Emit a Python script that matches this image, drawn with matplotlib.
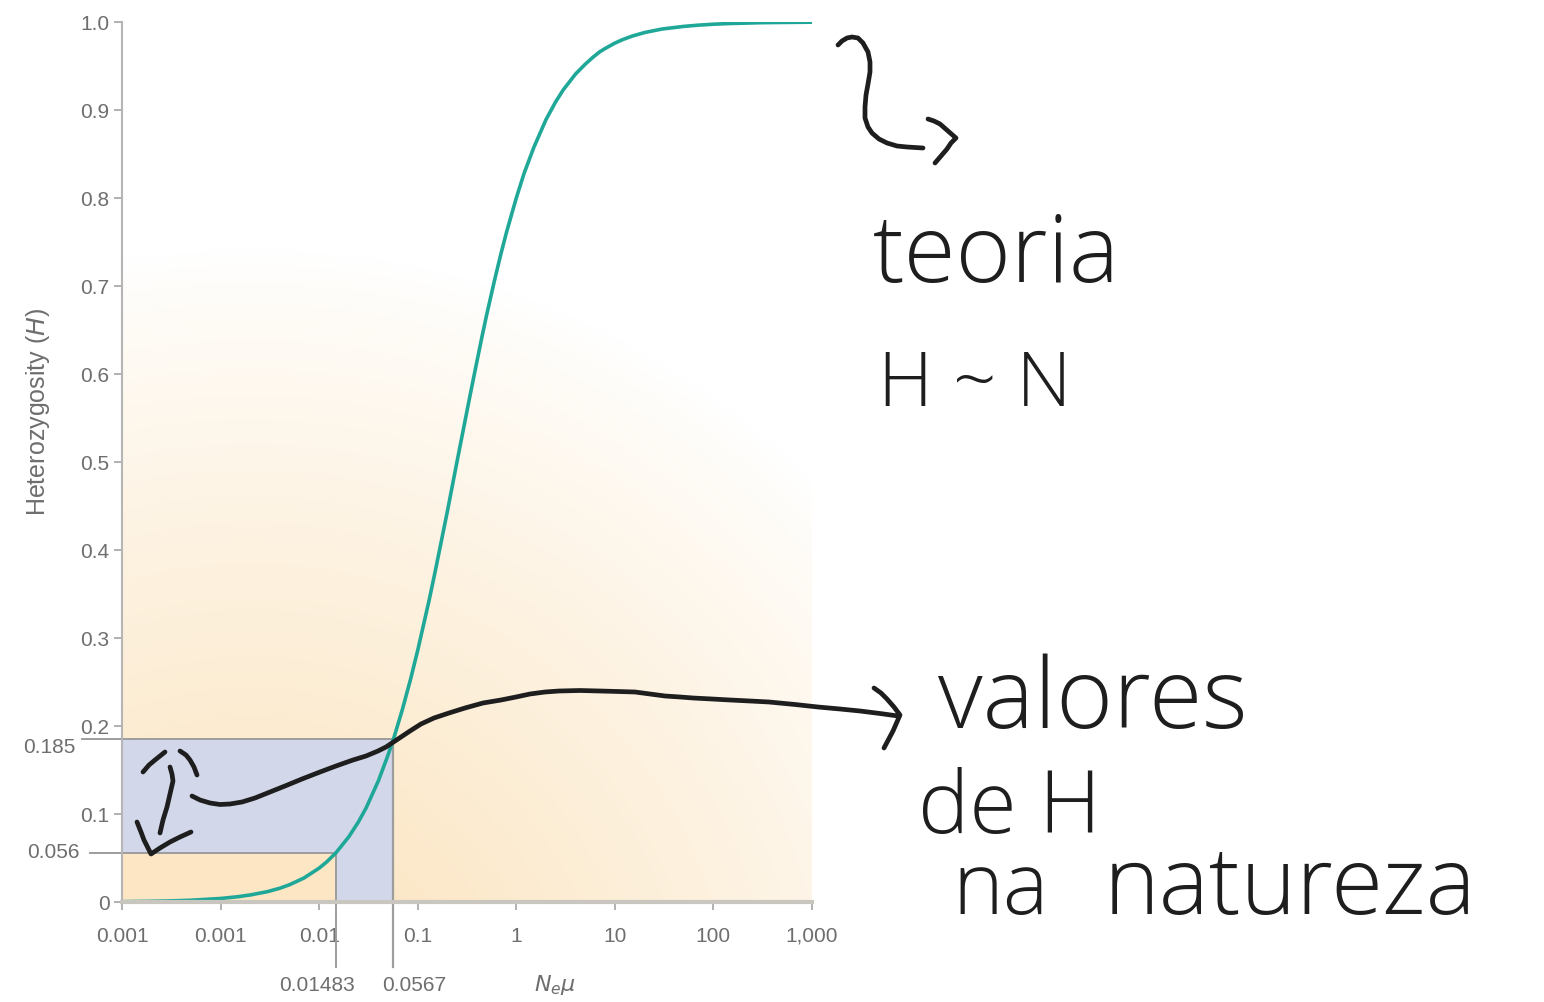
import numpy as np
import matplotlib
matplotlib.use("Agg")
import matplotlib.pyplot as plt
from matplotlib.transforms import blended_transform_factory, offset_copy

# ---- data -------------------------------------------------------------
# Expected heterozygosity H against the population-scaled mutation rate N_e*mu
ne_mu = [0.0001, 0.0002, 0.0003, 0.0005, 0.001, 0.0015, 0.002, 0.003, 0.004,
         0.005, 0.007, 0.01, 0.012, 0.01483, 0.02, 0.025, 0.03, 0.04, 0.05,
         0.0567, 0.06, 0.07, 0.085, 0.1, 0.13, 0.15, 0.17, 0.2, 0.25, 0.3,
         0.35, 0.4, 0.45, 0.5, 0.6, 0.7, 0.8, 1.0, 1.2, 1.5, 2.0, 2.5, 3.0,
         4.0, 5.0, 6.0, 7.0, 8.0, 10.0, 12.0, 15.0, 20.0, 30.0, 50.0, 70.0,
         100.0, 150.0, 300.0, 500.0, 1000.0]
het = [0.0004, 0.0008, 0.0012, 0.002, 0.004, 0.006, 0.008, 0.0118, 0.0157,
       0.0196, 0.0272, 0.0385, 0.0458, 0.056, 0.0741, 0.0909, 0.107, 0.138,
       0.167, 0.185, 0.194, 0.219, 0.254, 0.286, 0.342, 0.375, 0.405, 0.444,
       0.500, 0.545, 0.583, 0.615, 0.643, 0.667, 0.706, 0.737, 0.762, 0.800,
       0.828, 0.857, 0.889, 0.909, 0.923, 0.941, 0.952, 0.960, 0.966, 0.970,
       0.976, 0.980, 0.984, 0.988, 0.992, 0.995, 0.9964, 0.9975, 0.9983,
       0.9992, 0.9995, 0.9998]

# observed range of H and the matching N_e*mu values
h_low, h_high = 0.056, 0.185
nmu_low, nmu_high = 0.01483, 0.0567

x_ticks = [0.0001, 0.001, 0.01, 0.1, 1, 10, 100, 1000]
x_tick_labels = ["0.001", "0.001", "0.01", "0.1", "1", "10", "100", "1,000"]
y_ticks = [0, 0.1, 0.2, 0.3, 0.4, 0.5, 0.6, 0.7, 0.8, 0.9, 1.0]
y_tick_labels = ["0", "0.1", "0.2", "0.3", "0.4", "0.5", "0.6", "0.7", "0.8", "0.9", "1.0"]

# handwritten notes
note_theory = ["teoria", "H ~ N"]
note_nature = ["valores", "de H", "na", "natureza"]

# ---- style ------------------------------------------------------------
TEAL = "#1fa898"
GRAY = "#9d9d9d"
LABEL = "#6e6e6e"
PEACH = np.array([251, 225, 184]) / 255.0
BLUE_BOX = "#d3d7ea"
PEACH_BOX = "#fde6c3"
INK = "#1e1e1e"
TICK_FONT = ["Liberation Sans Narrow", "Liberation Sans", "DejaVu Sans"]
HAND_FONT = ["Open Sans", "DejaVu Sans"]

W, H = 1544, 1002
fig = plt.figure(figsize=(W / 100, H / 100), dpi=100)
fig.patch.set_facecolor("white")

ax_l, ax_r, ax_t, ax_b = 122, 812, 22, 902
ax = fig.add_axes([ax_l / W, 1 - ax_b / H, (ax_r - ax_l) / W, (ax_b - ax_t) / H])
ax.set_xscale("log")
ax.set_xlim(1e-4, 1e3)
ax.set_ylim(0, 1.0)
ax.set_facecolor("white")

# soft radial wash behind the plot
ny, nx = 400, 320
px_w, px_h = ax_r - ax_l, ax_b - ax_t
gx = np.linspace(0, px_w, nx)
gy = np.linspace(px_h, 0, ny)
GX, GY = np.meshgrid(gx, gy)
cx, cy = 128.0, -148.0
r = np.hypot(GX - cx, GY - cy)
a = np.clip(1 - r / 800.0, 0, 1) ** 0.85
img = 1 - a[..., None] * (1 - PEACH[None, None, :])
ax.imshow(img, extent=[0, 1, 0, 1], transform=ax.transAxes, aspect="auto",
          zorder=0, interpolation="bilinear")

# boxes marking the observed range
ax.fill_between([1e-4, nmu_high], 0, h_high, color=BLUE_BOX, zorder=1, lw=0)
ax.fill_between([1e-4, nmu_low], 0, h_low, color=PEACH_BOX, zorder=1.1, lw=0)

# guide lines reaching out past the axes
def axfrac_to_x(f):
    return 10 ** (np.log10(1e-4) + f * 7)

y_below = (ax_b - 967) / px_h
ax.plot([axfrac_to_x((82 - ax_l) / px_w), nmu_high], [h_high, h_high],
        color=GRAY, lw=1.4, clip_on=False, zorder=2)
ax.plot([axfrac_to_x((90 - ax_l) / px_w), nmu_low], [h_low, h_low],
        color=GRAY, lw=1.4, clip_on=False, zorder=2)
ax.plot([nmu_high, nmu_high], [h_high, y_below], color=GRAY, lw=1.6,
        clip_on=False, zorder=2)
ax.plot([nmu_low, nmu_low], [h_low, y_below], color=GRAY, lw=1.4,
        clip_on=False, zorder=2)

# theoretical curve
ax.plot(ne_mu, het, color=TEAL, lw=2.6, zorder=3, solid_capstyle="butt",
        solid_joinstyle="round")

# axes styling
for s in ("top", "right"):
    ax.spines[s].set_visible(False)
ax.spines["left"].set_color("#b5b5b5")
ax.spines["left"].set_linewidth(1.5)
ax.spines["bottom"].set_color("#c9c6c0")
ax.spines["bottom"].set_linewidth(3.0)
ax.spines["left"].set_zorder(4)
ax.spines["bottom"].set_zorder(4)

ax.set_xticks(x_ticks)
ax.set_xticklabels(x_tick_labels)
ax.xaxis.set_minor_locator(matplotlib.ticker.NullLocator())
ax.set_yticks(y_ticks)
ax.set_yticklabels(y_tick_labels)
ax.tick_params(axis="both", colors=GRAY, labelcolor=LABEL, length=6, width=1.1,
               labelsize=15)
ax.tick_params(axis="x", pad=12)
ax.tick_params(axis="y", pad=3)
for lab in ax.get_xticklabels() + ax.get_yticklabels():
    lab.set_family(TICK_FONT)

# extra value labels
yb = blended_transform_factory(ax.transAxes, ax.transData)
yb_down = offset_copy(yb, fig=fig, x=0, y=-6, units="points")
ax.text((76 - ax_l) / px_w, h_high, "0.185", transform=yb_down, ha="right",
        va="center", fontsize=15, color=LABEL, family=TICK_FONT)
ax.text((80 - ax_l) / px_w, h_low, "0.056", transform=yb, ha="right",
        va="center", fontsize=15, color=LABEL, family=TICK_FONT)
ax.annotate("0.01483", xy=(nmu_low, 0), xycoords=("data", "axes fraction"),
            xytext=(-14, -60), textcoords="offset points", ha="center",
            va="center", fontsize=15, color=LABEL, family=TICK_FONT)
ax.annotate("0.0567", xy=(nmu_high, 0), xycoords=("data", "axes fraction"),
            xytext=(15, -60), textcoords="offset points", ha="center",
            va="center", fontsize=15, color=LABEL, family=TICK_FONT)

ax.text((555 - ax_l) / px_w, (ax_b - 985) / px_h, r"$N_e\mu$",
        transform=ax.transAxes, ha="center", va="center", fontsize=16,
        color=LABEL)
ax.text((38 - ax_l) / px_w, (ax_b - 412) / px_h, r"Heterozygosity ($H$)",
        transform=ax.transAxes, ha="center", va="center", rotation=90,
        fontsize=18, color=LABEL, family=TICK_FONT)

# ---- handwritten layer (figure pixel coordinates) ---------------------
ink = fig.add_axes([0, 0, 1, 1], zorder=10)
ink.set_xlim(0, W)
ink.set_ylim(H, 0)
ink.axis("off")
ink.patch.set_alpha(0)

strokes = [
    # arrow from the observed box out to the right-hand note
    [(192, 796), (200, 800), (210, 803), (220, 804.5), (230, 804), (242, 802),
     (255, 798), (270, 792), (285, 786), (302, 779), (320, 772), (336, 766),
     (353, 760), (366, 756), (378, 751), (386, 747), (392, 743), (401, 737),
     (410, 731), (421, 724), (434, 718), (449, 713), (465, 708), (483, 703),
     (501, 700), (516, 697), (530, 694), (545, 692), (559, 691), (580, 690.5),
     (600, 691), (618, 691.5), (635, 692), (650, 694), (665, 696), (680, 697),
     (693, 698), (712, 699), (730, 700), (750, 701), (769, 702), (795, 704.5),
     (818, 707), (840, 709), (860, 711), (880, 713.5), (898, 716)],
    [(874, 688), (881, 693), (887, 699), (894, 707), (900, 715), (893, 731),
     (884, 748)],
    # double-headed arrow across the box
    [(170, 767), (172, 774), (173, 781), (170, 794), (167, 807), (163, 820),
     (160, 833)],
    [(143, 772), (149, 765), (155, 760), (160, 756), (165, 752)],
    [(180, 751), (186, 755), (190, 760), (194, 767), (197, 775)],
    [(137, 822), (141, 832), (144, 840), (148, 848), (151, 854), (160, 848),
     (170, 842), (180, 837), (191, 832)],
    # squiggle arrow towards the theory note
    [(838, 45), (842, 41), (847, 38), (852, 37), (858, 38), (863, 43),
     (868, 52), (870, 62), (870, 72), (868, 84), (866, 95), (865, 107),
     (865, 118), (868, 127), (872, 133), (879, 139), (887, 143), (897, 146),
     (907, 147), (915, 147.5), (923, 148)],
    [(928, 119), (934, 121), (940, 124), (948, 131), (956, 138), (951, 143),
     (947, 149), (941, 156), (935, 163)],
]
for s in strokes:
    xs, ys = zip(*s)
    ink.plot(xs, ys, color=INK, lw=3.4, solid_capstyle="round",
             solid_joinstyle="round")

hand = dict(color=INK, family=HAND_FONT, weight="light", va="baseline",
            ha="left")
ink.text(873, 282, note_theory[0], fontsize=68, **hand)
ink.text(878, 406, note_theory[1], fontsize=55, **hand)
ink.text(938, 728, note_nature[0], fontsize=70, **hand)
ink.text(918, 833, note_nature[1], fontsize=62, **hand)
ink.text(952, 914, note_nature[2], fontsize=62, **hand)
ink.text(1104, 914, note_nature[3], fontsize=68, **hand)

fig.savefig("out.png", dpi=100, facecolor="white")
